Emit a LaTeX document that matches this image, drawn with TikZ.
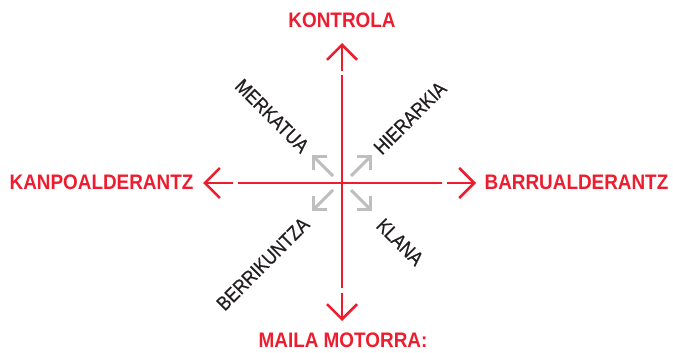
\documentclass[tikz,border=0pt]{standalone}
\usepackage{fontspec}
\usetikzlibrary{arrows.meta}
\newfontfamily\redfont[FakeStretch=0.9]{Liberation Sans}
\newfontfamily\blkfont[FakeStretch=0.86,FakeBold=0.6]{Liberation Sans}
\definecolor{myred}{HTML}{ED1C2E}
\definecolor{mygray}{HTML}{BCBEC0}
\definecolor{myblack}{HTML}{231F20}
\begin{document}
\begin{tikzpicture}[x=1pt,y=-1pt,
  axisline/.style={draw=myred,line width=2pt},
  redarrow/.style={draw=myred,line width=2.5pt,-{Straight Barb[length=15pt,width=30pt]}},
  grayarrow/.style={draw=mygray,line width=3pt,-{Straight Barb[length=9.5pt,width=19pt]}},
  redlabel/.style={text=myred,font=\redfont\bfseries\fontsize{21}{21}\selectfont,inner sep=0pt},
  blklabel/.style={text=myblack,font=\blkfont\fontsize{20}{20}\selectfont,inner sep=0pt}]
\useasboundingbox (0,0) rectangle (673,353);
% axis coordinates
\coordinate (c) at (342,183);
\coordinate (ltop) at (342,75);
\coordinate (lbot) at (342,288);
\coordinate (lleft) at (238,183);
\coordinate (lright) at (442,183);
\coordinate (atopS) at (342,71);
\coordinate (atopE) at (342,43);
\coordinate (abotS) at (342,293);
\coordinate (abotE) at (342,321);
\coordinate (aleftS) at (233,183);
\coordinate (aleftE) at (203,183);
\coordinate (arightS) at (447,183);
\coordinate (arightE) at (476,183);
\draw[axisline] (ltop) -- (lbot);
\draw[axisline] (lleft) -- (lright);
\draw[redarrow] (atopS) -- (atopE);
\draw[redarrow] (abotS) -- (abotE);
\draw[redarrow] (aleftS) -- (aleftE);
\draw[redarrow] (arightS) -- (arightE);
% gray arrows
\coordinate (g1s) at (333,176);
\coordinate (g1e) at (312,155);
\coordinate (g2s) at (351,176);
\coordinate (g2e) at (372,155);
\coordinate (g3s) at (333,190);
\coordinate (g3e) at (312,211);
\coordinate (g4s) at (351,190);
\coordinate (g4e) at (372,211);
\draw[grayarrow] (g1s) -- (g1e);
\draw[grayarrow] (g2s) -- (g2e);
\draw[grayarrow] (g3s) -- (g3e);
\draw[grayarrow] (g4s) -- (g4e);
% labels
\node[redlabel] (kontrola) at (342,20.5) {KONTROLA};
\node[redlabel] (kanpo) at (101.5,182.5) {KANPOALDERANTZ};
\node[redlabel] (barru) at (576.5,182.5) {BARRUALDERANTZ};
\node[redlabel] (maila) at (343,340.5) {MAILA MOTORRA:};
\node[blklabel,rotate=-45] (merkatua) at (272,116) {MERKATUA};
\node[blklabel,rotate=45] (hierarkia) at (410,118) {HIERARKIA};
\node[blklabel,rotate=45] (berrikuntza) at (263,264) {BERRIKUNTZA};
\node[blklabel,rotate=-45] (klana) at (400,242) {KLANA};
\end{tikzpicture}
\end{document}
